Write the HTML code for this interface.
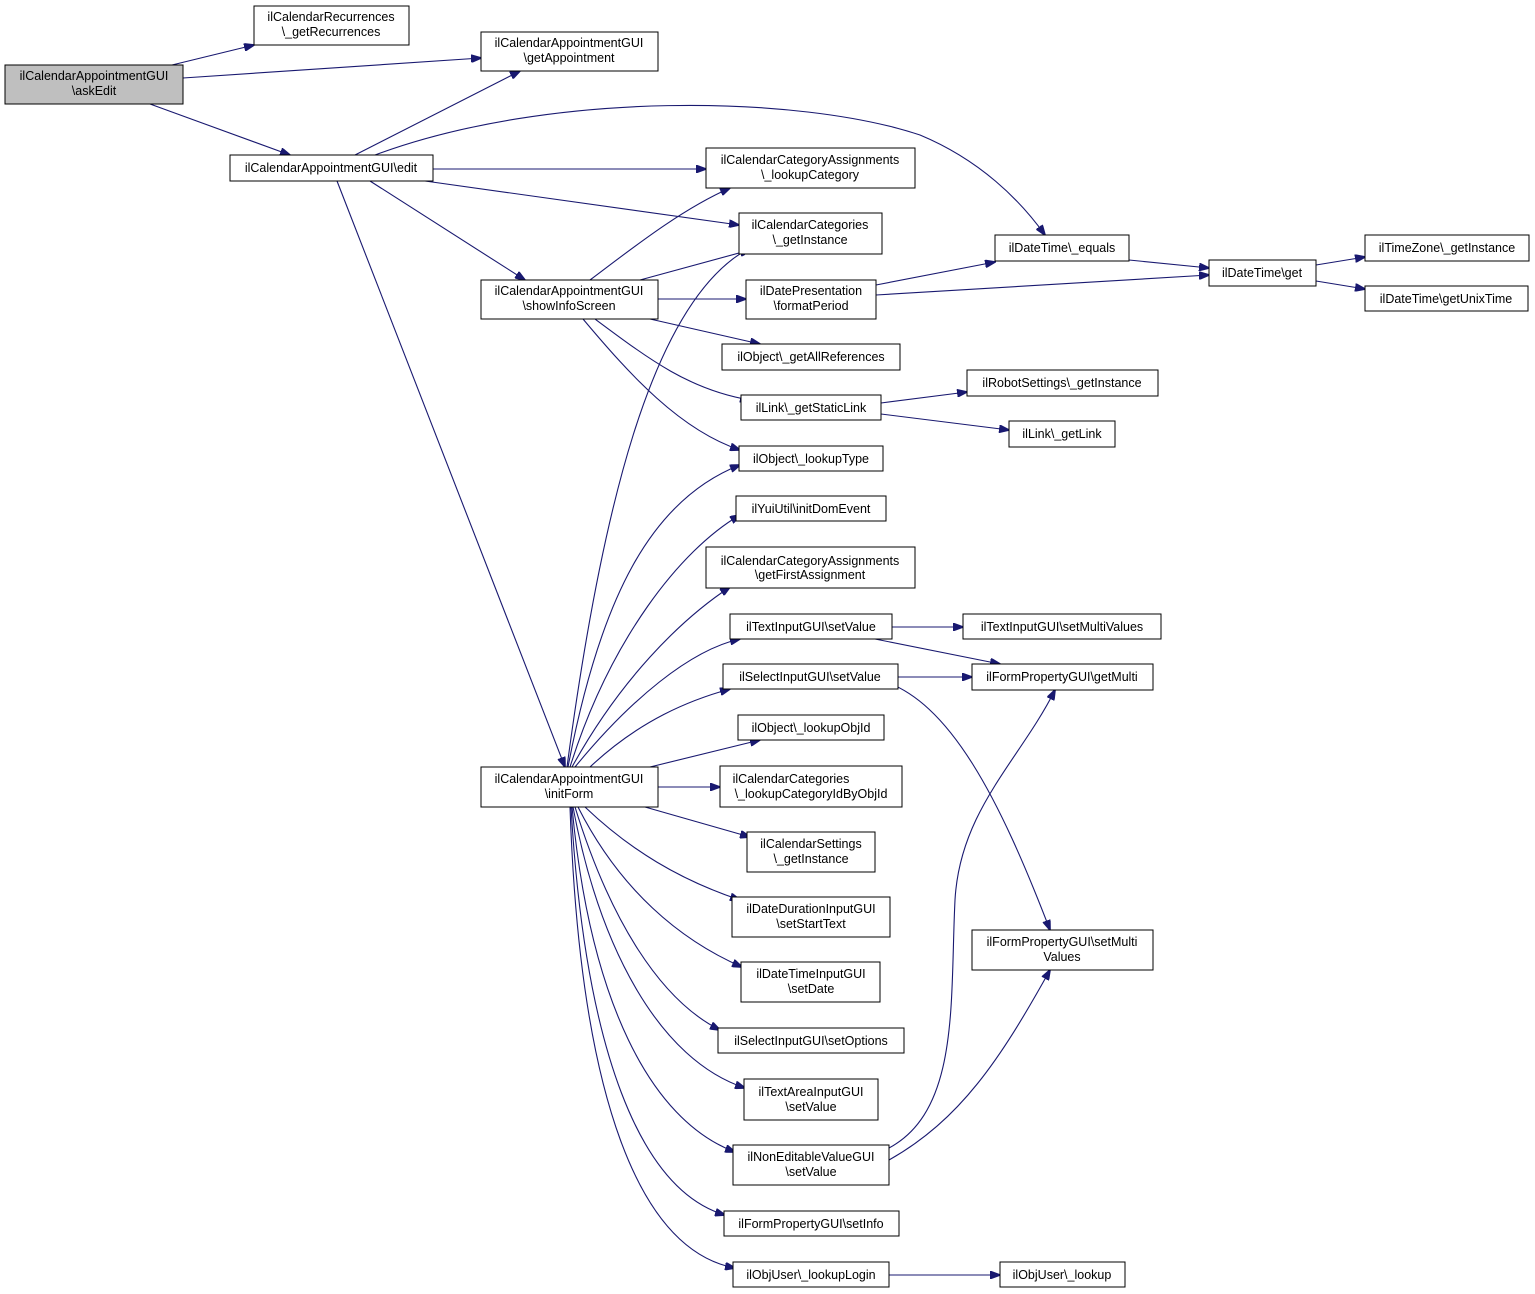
<!DOCTYPE html>
<html><head><meta charset="utf-8"><style>
html,body{margin:0;padding:0;background:#fff}
svg{display:block}
text{font-family:"Liberation Sans",sans-serif;font-size:12.5px;fill:#000;text-anchor:middle}
rect{fill:#fff;stroke:#000;stroke-width:1}
path{fill:none;stroke:#191970;stroke-width:1.1}
</style></head><body>
<svg width="1535" height="1294" viewBox="0 0 1535 1294" xmlns="http://www.w3.org/2000/svg">
<defs><marker id="a" markerWidth="11" markerHeight="8" refX="10" refY="4" orient="auto" markerUnits="userSpaceOnUse"><polygon points="0,0 11,4 0,8" fill="#191970" stroke="#191970"/></marker></defs>
<g marker-end="url(#a)">
<path d="M172,65 L254,45"/>
<path d="M183,78 L481,58"/>
<path d="M150,104 L290,155"/>
<path d="M355,155 L520,71"/>
<path d="M375,155 C550,90 800,95 920,135 C980,160 1020,200 1045,235"/>
<path d="M433,169 L706,169"/>
<path d="M425,181 L739,225"/>
<path d="M370,181 L525,280"/>
<path d="M337,181 L565,767"/>
<path d="M590,280 C630,250 680,210 730,188"/>
<path d="M640,280 L750,250"/>
<path d="M658,299 L746,299"/>
<path d="M650,319 L760,344"/>
<path d="M595,319 C650,360 690,390 750,400"/>
<path d="M583,319 C630,375 680,430 740,450"/>
<path d="M876,285 L995,262"/>
<path d="M876,295 L1209,275"/>
<path d="M1129,260 L1209,268"/>
<path d="M1316,265 L1365,257"/>
<path d="M1316,281 L1365,289"/>
<path d="M881,403 L967,392"/>
<path d="M881,414 L1009,430"/>
<path d="M567,767 C600,520 650,300 750,248"/>
<path d="M568,767 C600,600 650,500 740,465"/>
<path d="M570,767 C610,640 680,550 740,515"/>
<path d="M572,767 C620,680 680,620 730,587"/>
<path d="M575,767 C630,700 690,650 740,639"/>
<path d="M590,767 C640,720 690,700 730,689"/>
<path d="M650,767 L760,740"/>
<path d="M658,787 L720,787"/>
<path d="M645,807 L750,837"/>
<path d="M585,807 C630,850 680,880 740,900"/>
<path d="M578,807 C620,890 680,940 742,967"/>
<path d="M575,807 C610,920 660,1000 720,1030"/>
<path d="M573,807 C600,950 660,1060 745,1088"/>
<path d="M572,807 C590,1000 650,1120 735,1152"/>
<path d="M571,807 C585,1050 640,1190 725,1215"/>
<path d="M570,807 C580,1100 640,1250 735,1268"/>
<path d="M892,627 L963,627"/>
<path d="M875,639 L1000,664"/>
<path d="M898,677 L972,677"/>
<path d="M880,680 C950,700 1000,800 1050,930"/>
<path d="M889,1148 C960,1110 950,1000 955,900 C960,810 1020,760 1055,690"/>
<path d="M889,1160 C960,1120 1000,1060 1050,970"/>
<path d="M889,1275 L1000,1275"/>
</g>
<rect x="5" y="65" width="178" height="39" style="fill:#bfbfbf"/><text x="94" y="80">ilCalendarAppointmentGUI</text><text x="94" y="95">\askEdit</text>
<rect x="254" y="6" width="155" height="39"/><text x="331" y="21">ilCalendarRecurrences</text><text x="331" y="36">\_getRecurrences</text>
<rect x="481" y="32" width="177" height="39"/><text x="569" y="47">ilCalendarAppointmentGUI</text><text x="569" y="62">\getAppointment</text>
<rect x="230" y="155" width="203" height="26"/><text x="331" y="172">ilCalendarAppointmentGUI\edit</text>
<rect x="706" y="148" width="209" height="40"/><text x="810" y="164">ilCalendarCategoryAssignments</text><text x="810" y="179">\_lookupCategory</text>
<rect x="739" y="213" width="143" height="41"/><text x="810" y="229">ilCalendarCategories</text><text x="810" y="244">\_getInstance</text>
<rect x="481" y="280" width="177" height="39"/><text x="569" y="295">ilCalendarAppointmentGUI</text><text x="569" y="310">\showInfoScreen</text>
<rect x="746" y="280" width="130" height="39"/><text x="811" y="295">ilDatePresentation</text><text x="811" y="310">\formatPeriod</text>
<rect x="995" y="235" width="134" height="26"/><text x="1062" y="252">ilDateTime\_equals</text>
<rect x="1209" y="260" width="107" height="26"/><text x="1262" y="277">ilDateTime\get</text>
<rect x="1365" y="235" width="164" height="26"/><text x="1447" y="252">ilTimeZone\_getInstance</text>
<rect x="1365" y="286" width="163" height="25"/><text x="1446" y="303">ilDateTime\getUnixTime</text>
<rect x="722" y="344" width="178" height="26"/><text x="811" y="361">ilObject\_getAllReferences</text>
<rect x="967" y="370" width="191" height="26"/><text x="1062" y="387">ilRobotSettings\_getInstance</text>
<rect x="741" y="395" width="140" height="25"/><text x="811" y="412">ilLink\_getStaticLink</text>
<rect x="1009" y="421" width="106" height="26"/><text x="1062" y="438">ilLink\_getLink</text>
<rect x="739" y="446" width="144" height="25"/><text x="811" y="463">ilObject\_lookupType</text>
<rect x="736" y="496" width="150" height="25"/><text x="811" y="513">ilYuiUtil\initDomEvent</text>
<rect x="706" y="547" width="209" height="41"/><text x="810" y="565">ilCalendarCategoryAssignments</text><text x="810" y="579">\getFirstAssignment</text>
<rect x="730" y="614" width="162" height="25"/><text x="811" y="631">ilTextInputGUI\setValue</text>
<rect x="963" y="614" width="198" height="25"/><text x="1062" y="631">ilTextInputGUI\setMultiValues</text>
<rect x="723" y="664" width="175" height="25"/><text x="810" y="681">ilSelectInputGUI\setValue</text>
<rect x="972" y="664" width="181" height="26"/><text x="1062" y="681">ilFormPropertyGUI\getMulti</text>
<rect x="738" y="715" width="146" height="25"/><text x="811" y="732">ilObject\_lookupObjId</text>
<rect x="720" y="766" width="182" height="41"/><text x="791" y="783">ilCalendarCategories</text><text x="811" y="798">\_lookupCategoryIdByObjId</text>
<rect x="481" y="767" width="177" height="40"/><text x="569" y="783">ilCalendarAppointmentGUI</text><text x="569" y="798">\initForm</text>
<rect x="747" y="832" width="128" height="40"/><text x="811" y="848">ilCalendarSettings</text><text x="811" y="863">\_getInstance</text>
<rect x="732" y="897" width="158" height="40"/><text x="811" y="913">ilDateDurationInputGUI</text><text x="811" y="928">\setStartText</text>
<rect x="741" y="962" width="139" height="40"/><text x="811" y="978">ilDateTimeInputGUI</text><text x="811" y="993">\setDate</text>
<rect x="718" y="1028" width="186" height="25"/><text x="811" y="1045">ilSelectInputGUI\setOptions</text>
<rect x="744" y="1079" width="134" height="41"/><text x="811" y="1096">ilTextAreaInputGUI</text><text x="811" y="1111">\setValue</text>
<rect x="972" y="930" width="181" height="40"/><text x="1062" y="946">ilFormPropertyGUI\setMulti</text><text x="1062" y="961">Values</text>
<rect x="733" y="1145" width="156" height="40"/><text x="811" y="1161">ilNonEditableValueGUI</text><text x="811" y="1176">\setValue</text>
<rect x="724" y="1211" width="175" height="25"/><text x="811" y="1228">ilFormPropertyGUI\setInfo</text>
<rect x="733" y="1262" width="156" height="25"/><text x="811" y="1279">ilObjUser\_lookupLogin</text>
<rect x="1000" y="1262" width="125" height="25"/><text x="1062" y="1279">ilObjUser\_lookup</text>
</svg>
</body></html>
